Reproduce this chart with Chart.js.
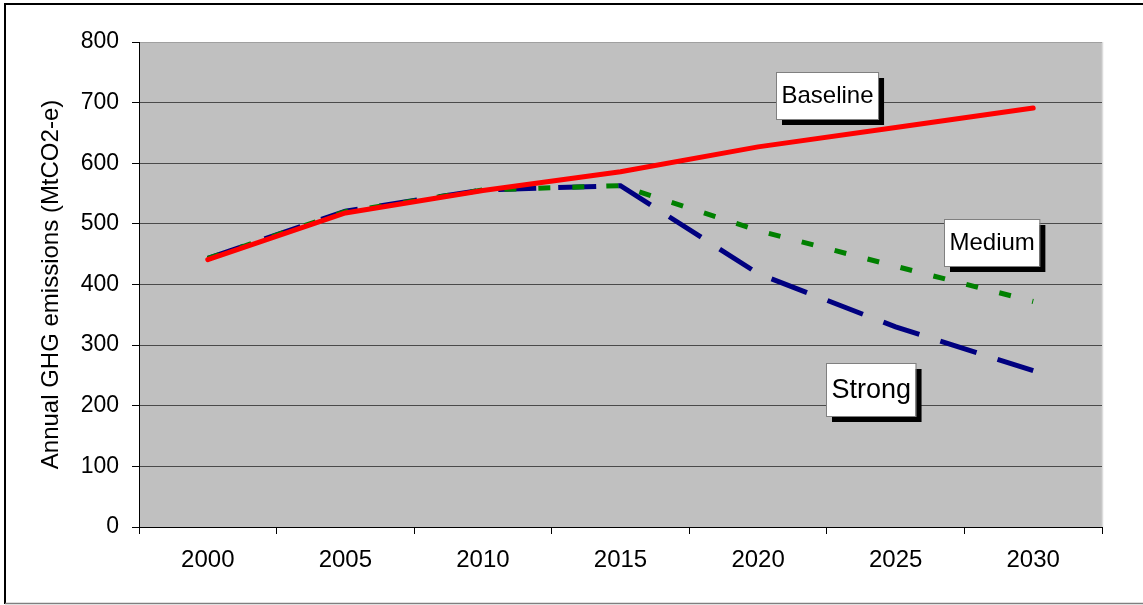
<!DOCTYPE html>
<html>
<head>
<meta charset="utf-8">
<title>Annual GHG emissions</title>
<script src="https://cdn.jsdelivr.net/npm/chart.js@4.4.1/dist/chart.umd.min.js"></script>
<style>
    html, body { margin: 0; padding: 0; background: #fff; }
    canvas { display: block; }
</style>
</head>
<body>
<canvas id="emissionsChart" width="1143" height="605"></canvas>
<script>
// Values (MtCO2-e)
const years = ['2000', '2005', '2010', '2015', '2020', '2025', '2030'];
const baseline = [441, 518, 555, 586, 627, 659, 691];
const medium = [443, 520, 556, 563, 489, 430, 372];
const strong = [443, 521, 556, 563, 418, 330, 258];
const yTicks = [0, 100, 200, 300, 400, 500, 600, 700, 800];

const FONT = "'Liberation Sans', Arial, sans-serif";

// text boxes with a drop shadow, placed in data coordinates (category index, value)
const notes = [
    { text: 'Baseline', at: 4.5, value: 711, size: 24 },
    { text: 'Medium', at: 5.7, value: 470, size: 24 },
    { text: 'Strong', at: 4.82, value: 226, size: 27 }
];

const framePlugin = {
    id: 'frame',
    beforeDraw(chart) {
        const { ctx, chartArea: a } = chart;
        ctx.save();
        ctx.fillStyle = '#fff';
        ctx.fillRect(0, 0, chart.width, chart.height);
        ctx.fillStyle = '#c0c0c0';
        ctx.fillRect(a.left, a.top, a.right - a.left, a.bottom - a.top);

        // outer border
        ctx.strokeStyle = '#000';
        ctx.lineWidth = 2;
        ctx.beginPath();
        ctx.moveTo(chart.width + 2, 4);
        ctx.lineTo(5, 4);
        ctx.lineTo(5, 604);
        ctx.stroke();
        ctx.strokeStyle = '#7f7f7f';
        ctx.lineWidth = 1.5;
        ctx.beginPath();
        ctx.moveTo(5, 603.5);
        ctx.lineTo(chart.width, 603.5);
        ctx.stroke();

        // light right edge of the plot area
        ctx.strokeStyle = '#dcdcdc';
        ctx.lineWidth = 1.5;
        ctx.beginPath();
        ctx.moveTo(a.right + 0.5, a.top);
        ctx.lineTo(a.right + 0.5, a.bottom);
        ctx.stroke();
        ctx.restore();
    },
    afterDatasetsDraw(chart) {
        const { ctx } = chart;
        const xs = chart.scales.x, ys = chart.scales.y;
        ctx.save();
        notes.forEach(function (n) {
            ctx.font = n.size + 'px ' + FONT;
            const w = ctx.measureText(n.text).width + 10;
            const h = Math.round(n.size * 1.95);
            const cx = xs.getPixelForValue(n.at);
            const cy = ys.getPixelForValue(n.value);
            const x = Math.round(cx - w / 2), y = Math.round(cy - h / 2);
            ctx.fillStyle = '#000';
            ctx.fillRect(x + 6, y + 6, w, h);
            ctx.fillStyle = '#fff';
            ctx.fillRect(x, y, w, h);
            ctx.strokeStyle = '#808080';
            ctx.lineWidth = 1;
            ctx.strokeRect(x + 0.5, y + 0.5, w, h);
            ctx.fillStyle = '#000';
            ctx.textAlign = 'center';
            ctx.textBaseline = 'middle';
            ctx.fillText(n.text, x + w / 2 + 0.5, y + h / 2 + 1);
        });
        ctx.restore();
    }
};

document.addEventListener('DOMContentLoaded', function () {
    const ctx = document.getElementById('emissionsChart').getContext('2d');
    const emissionsChart = new Chart(ctx, {
        type: 'line',
        data: {
            labels: years,
            datasets: [
                {
                    label: 'Baseline',
                    data: baseline,
                    borderColor: '#ff0000',
                    borderWidth: 5,
                    borderCapStyle: 'round',
                    borderJoinStyle: 'round'
                },
                {
                    label: 'Medium',
                    data: medium,
                    borderColor: '#008000',
                    borderWidth: 5,
                    borderDash: [12, 22]
                },
                {
                    label: 'Strong',
                    data: strong,
                    borderColor: '#000080',
                    borderWidth: 5,
                    borderDash: [38, 22]
                }
            ]
        },
        options: {
            responsive: false,
            animation: false,
            devicePixelRatio: 1,
            elements: {
                line: { tension: 0, fill: false },
                point: { radius: 0, hoverRadius: 0 }
            },
            layout: {
                padding: { left: 0, top: 42, right: 41, bottom: 0 }
            },
            scales: {
                x: {
                    type: 'category',
                    offset: true,
                    grid: {
                        offset: true,
                        drawOnChartArea: false,
                        drawTicks: true,
                        tickLength: 7,
                        tickColor: '#000'
                    },
                    border: { display: true, color: '#000', width: 1 },
                    ticks: {
                        color: '#000',
                        font: { family: FONT, size: 24 },
                        padding: 12,
                        maxRotation: 0
                    },
                    afterFit: function (scale) { scale.height = 78; }
                },
                y: {
                    min: 0,
                    max: 800,
                    afterBuildTicks: function (scale) {
                        scale.ticks = yTicks.map(function (v) { return { value: v }; });
                    },
                    grid: {
                        color: function (c) { return c.tick && c.tick.value === 800 ? '#a0a0a0' : '#4a4a4a'; },
                        lineWidth: 1,
                        tickLength: 7,
                        tickColor: '#000'
                    },
                    border: { display: true, color: '#000', width: 1 },
                    ticks: {
                        color: '#000',
                        font: { family: FONT, size: 23 },
                        padding: 13
                    },
                    title: {
                        display: true,
                        text: 'Annual GHG emissions (MtCO2-e)',
                        color: '#000',
                        font: { family: FONT, size: 24 },
                        padding: { top: 37, bottom: 0 }
                    },
                    afterFit: function (scale) { scale.width = 139; }
                }
            },
            plugins: {
                legend: { display: false },
                tooltip: { enabled: false }
            }
        },
        plugins: [framePlugin]
    });
});
</script>
</body>
</html>
